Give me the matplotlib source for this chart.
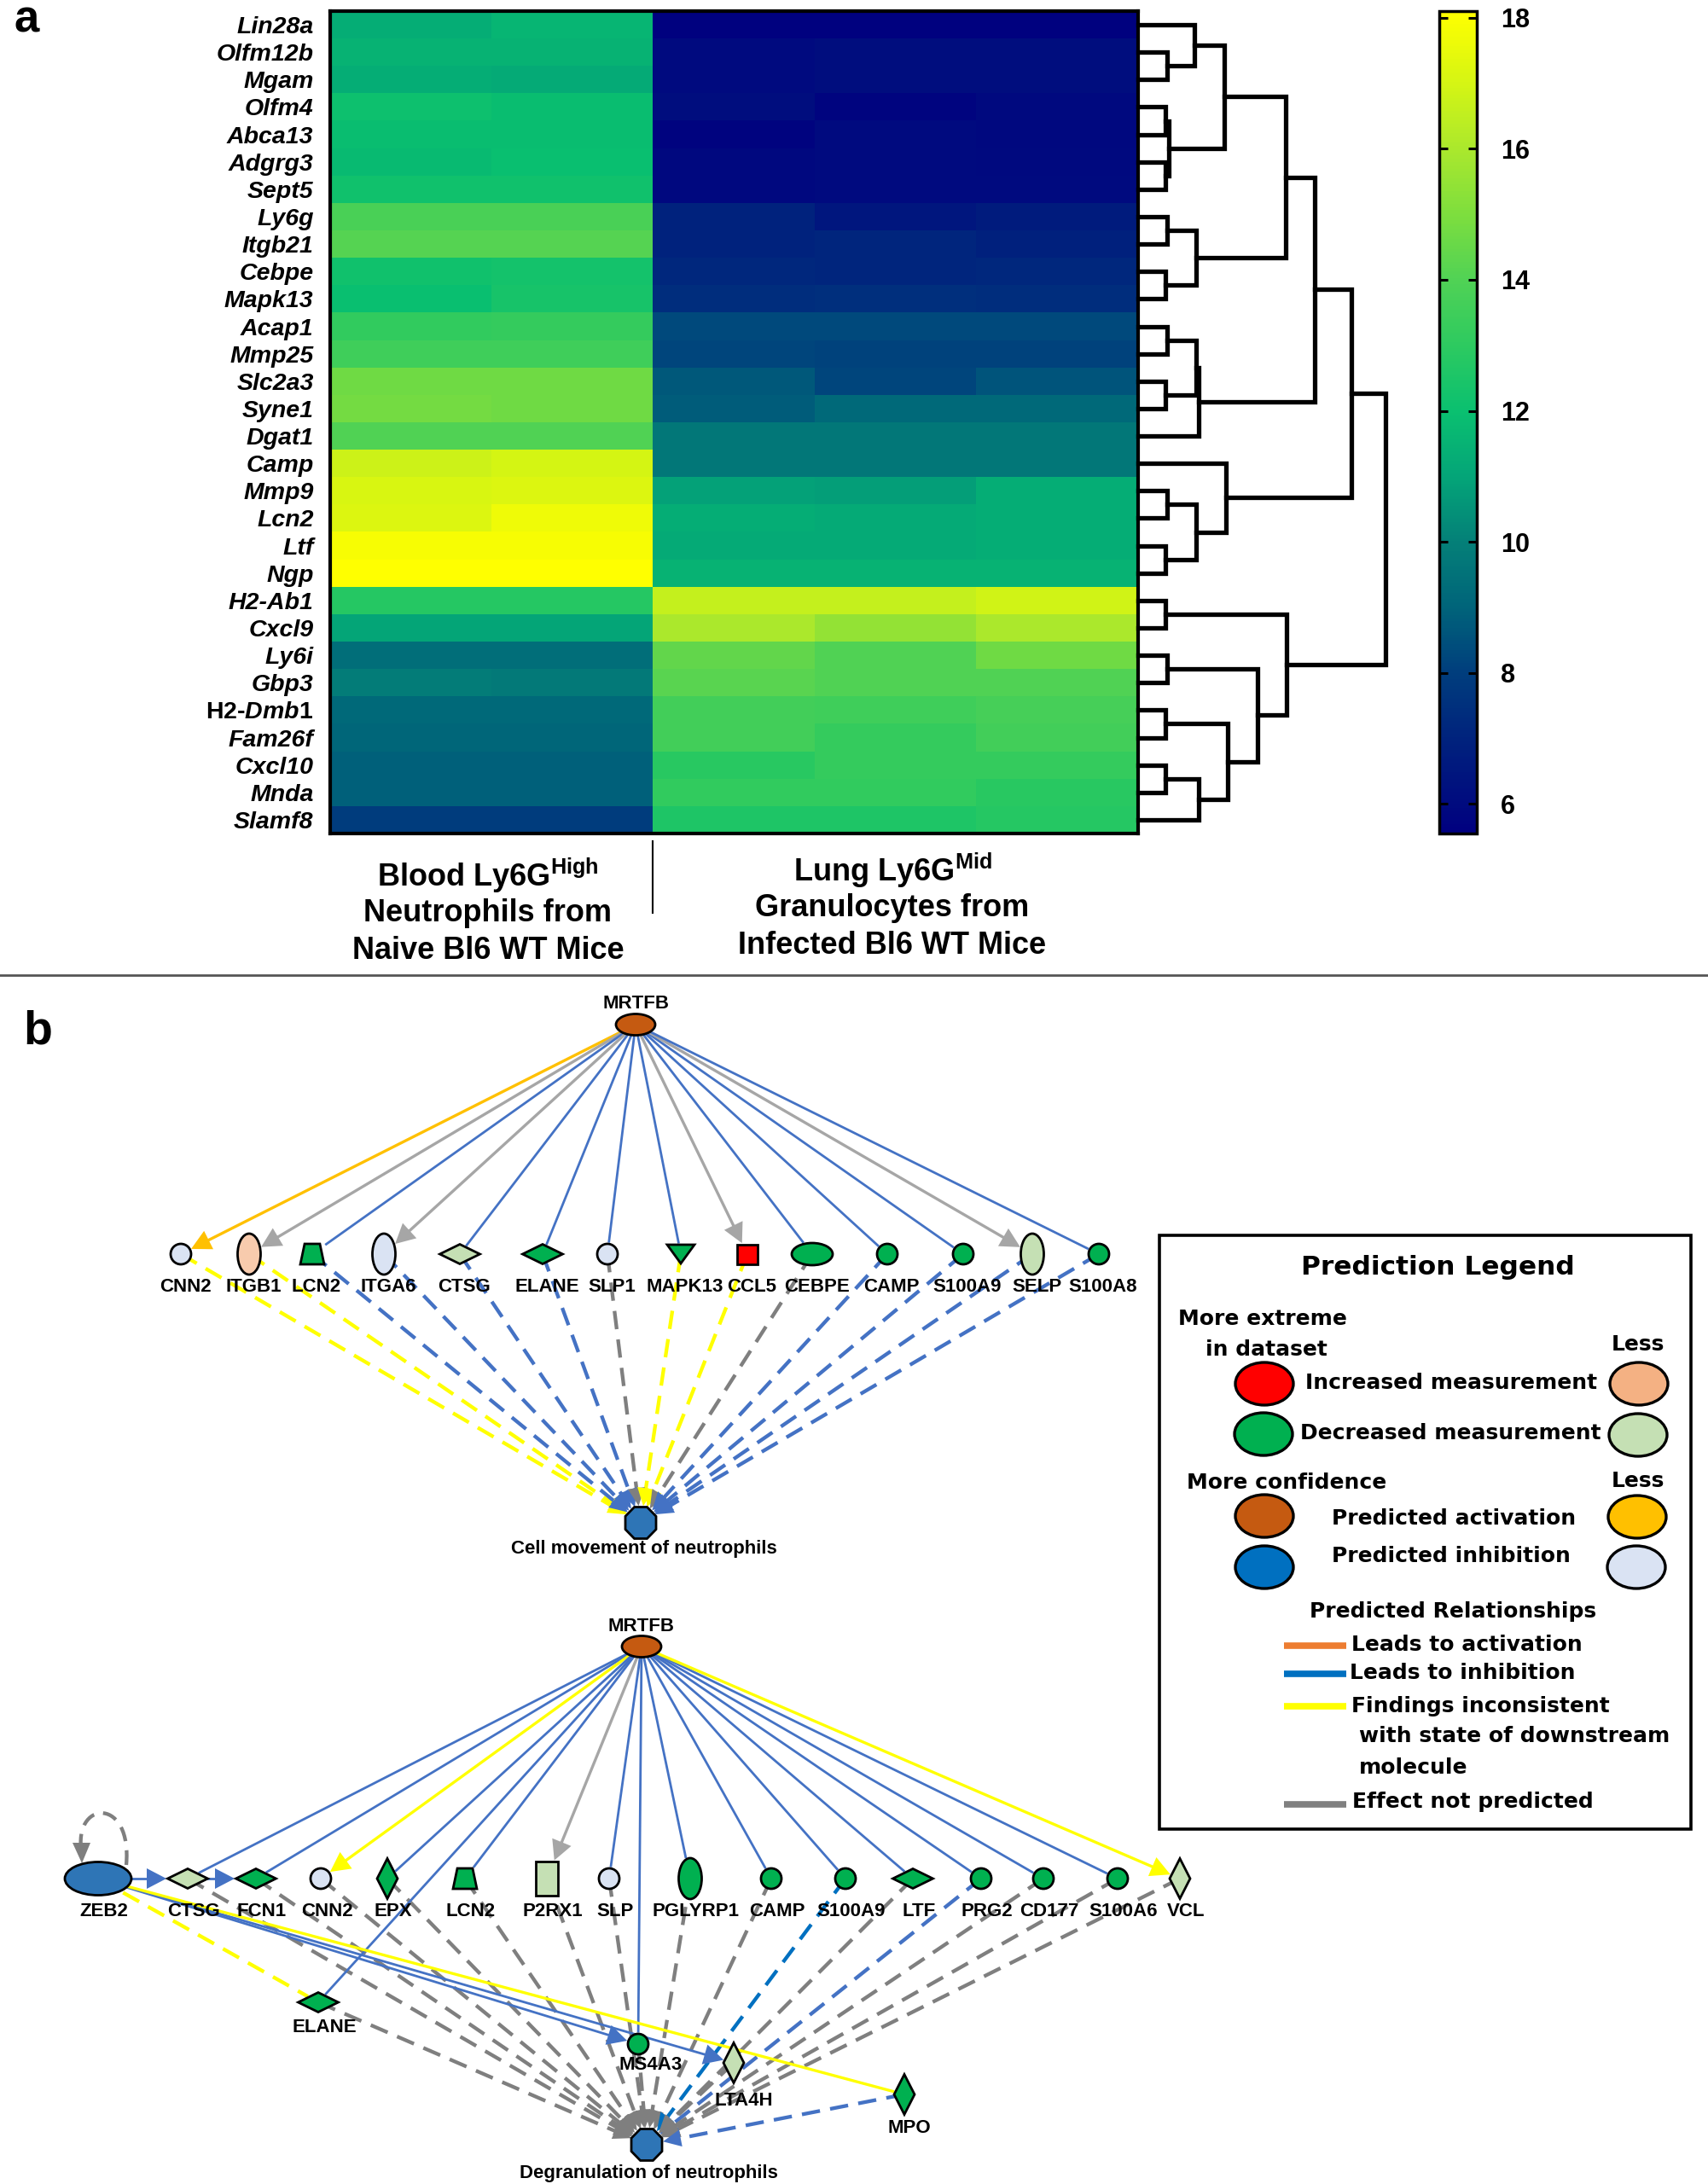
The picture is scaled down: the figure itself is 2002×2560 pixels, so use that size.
import matplotlib

matplotlib.use("Agg")

import matplotlib.pyplot as plt  # noqa: E402
import numpy as np  # noqa: E402
from matplotlib.colors import LinearSegmentedColormap  # noqa: E402
from matplotlib.patches import Ellipse, Polygon, Rectangle, PathPatch  # noqa: E402
from matplotlib.path import Path  # noqa: E402

plt.rcParams["font.family"] = ["Liberation Sans", "DejaVu Sans"]
plt.rcParams["mathtext.fontset"] = "custom"
plt.rcParams["mathtext.rm"] = "Liberation Sans:bold"
plt.rcParams["mathtext.it"] = "Liberation Sans:italic:bold"
plt.rcParams["mathtext.bf"] = "Liberation Sans:bold"

# ---------------------------------------------------------------- panel a data
genes = ["Lin28a", "Olfm12b", "Mgam", "Olfm4", "Abca13", "Adgrg3", "Sept5", "Ly6g",
         "Itgb21", "Cebpe", "Mapk13", "Acap1", "Mmp25", "Slc2a3", "Syne1", "Dgat1",
         "Camp", "Mmp9", "Lcn2", "Ltf", "Ngp", "H2-Ab1", "Cxcl9", "Ly6i", "Gbp3",
         "H2-Dmb1", "Fam26f", "Cxcl10", "Mnda", "Slamf8"]
blood_1 = [11.3, 11.5, 11.3, 12.1, 11.9, 11.8, 12.2, 13.8, 14.1, 12.2, 12.0, 13.1, 13.5, 14.7, 14.8,
           14.0, 16.8, 17.1, 17.2, 17.9, 18.1, 12.8, 11.0, 9.4, 9.9, 9.2, 9.1, 8.9, 8.9, 8.0]
blood_2 = [11.6, 11.5, 11.2, 11.9, 11.9, 12.0, 12.2, 13.8, 14.1, 12.3, 12.4, 13.2, 13.5, 14.7, 14.7,
           14.0, 17.0, 17.2, 17.7, 17.9, 18.1, 12.8, 11.0, 9.4, 9.8, 9.2, 9.1, 8.9, 8.9, 8.0]
lung_1 = [5.6, 6.0, 6.0, 6.1, 5.7, 5.9, 5.9, 7.0, 7.0, 7.2, 7.4, 8.3, 8.2, 8.7, 8.8,
          9.7, 9.7, 10.9, 11.3, 11.2, 11.5, 16.6, 16.0, 14.4, 14.2, 13.6, 13.6, 12.9, 13.1, 12.6]
lung_2 = [5.6, 6.1, 6.1, 5.75, 6.0, 6.0, 6.0, 6.5, 7.1, 7.1, 7.5, 8.3, 8.1, 8.2, 9.2,
          9.7, 9.7, 10.8, 11.2, 11.2, 11.5, 16.6, 15.5, 14.0, 14.0, 13.5, 13.2, 13.2, 13.1, 12.6]
lung_3 = [5.6, 6.1, 6.1, 5.95, 5.9, 5.95, 6.0, 6.7, 6.9, 7.2, 7.4, 8.3, 8.1, 8.6, 9.2,
          9.7, 9.7, 11.3, 11.3, 11.3, 11.5, 16.9, 16.0, 14.7, 14.0, 13.7, 13.6, 13.2, 12.9, 12.8]

# dendrogram merges: merge k creates node len(genes) + k
merge_a = [1, 0, 3, 5, 32, 31, 7, 9, 36, 35, 11, 13, 40, 42, 39, 17, 19, 45, 16, 44,
           21, 27, 51, 25, 53, 23, 55, 50, 49]
merge_b = [2, 30, 4, 6, 33, 34, 8, 10, 37, 38, 12, 14, 41, 15, 43, 18, 20, 46, 47, 48,
           22, 28, 29, 26, 52, 24, 54, 56, 57]
merge_h = [53, 102, 50, 50, 55, 157, 53, 50, 105, 267, 53, 50, 106, 110, 320, 53, 50, 106, 160, 387,
           50, 50, 110, 50, 163, 53, 217, 270, 448]

cbar_ticks = [6, 8, 10, 12, 14, 16, 18]
v_min, v_max = 5.55, 18.1

# ---------------------------------------------------------------- panel b data
net1_genes = ["CNN2", "ITGB1", "LCN2", "ITGA6", "CTSG", "ELANE", "SLP1", "MAPK13", "CCL5",
              "CEBPE", "CAMP", "S100A9", "SELP", "S100A8"]
net1_shape = ["circle", "vellipse", "trapezoid", "vellipse", "diamond", "diamond", "circle",
              "triangle_down", "square", "hellipse", "circle", "circle", "vellipse", "circle"]
net1_state = ["inh_less", "up_less", "down", "inh_less", "down_less", "down", "inh_less", "down",
              "up", "down", "down", "down", "down_less", "down"]
net1_in = ["act", "none", "inh", "none", "inh", "inh", "inh", "inh", "none", "inh", "inh", "inh",
           "none", "inh"]
net1_out = ["inc", "inc", "inh", "inh", "inh", "inh", "none", "inc", "inc", "none", "inh", "inh",
            "inh", "inh"]

net2_genes = ["ZEB2", "CTSG", "FCN1", "CNN2", "EPX", "LCN2", "P2RX1", "SLP", "PGLYRP1", "CAMP",
              "S100A9", "LTF", "PRG2", "CD177", "S100A6", "VCL", "ELANE", "MS4A3", "LTA4H", "MPO"]
net2_shape = ["zeb", "diamond", "diamond", "circle", "tall_diamond", "trapezoid", "rect", "circle",
              "vellipse", "circle", "circle", "diamond", "circle", "circle", "circle",
              "tall_diamond", "diamond", "circle", "tall_diamond", "tall_diamond"]
net2_state = ["inh", "down_less", "down", "inh_less", "down", "down", "down_less", "inh_less",
              "down", "down", "down", "down", "down", "down", "down", "down_less", "down", "down",
              "down_less", "down"]
net2_in = [None, "inh", "inh", "inc", "inh", "inh", "none", "inh", "inh", "inh", "inh", "inh",
           "inh", "inh", "inh", "inc", "inh", "inh", None, None]
net2_out = [None, "none", "none", "none", "none", "none", "none", "none", "none", "none", "inh2",
            "none", "inh", "none", "none", "none", "none", "none", "none", "inh"]
# extra links (source, target, relation, dashed, arrow)
net2_links = [("ZEB2", "CTSG", "inh", False, True), ("CTSG", "FCN1", "inh", False, True),
              ("ZEB2", "MS4A3", "inh", False, True), ("ZEB2", "LTA4H", "inh", False, True),
              ("ZEB2", "MPO", "inc", False, False), ("ZEB2", "ELANE", "inc", True, False)]

# ---------------------------------------------------------------- layout (pixels)
W, H = 2002, 2560
net1_x = [212, 292, 366, 450, 539, 636, 712, 798, 876, 952, 1040, 1129, 1210, 1288]
net1_row_y, net1_label_y = 1470, 1509
net1_root, net1_fn = (745, 1201), (751, 1785)

net2_x = [115, 220, 300, 376, 454, 545, 641, 714, 809, 904, 991, 1070, 1150, 1223, 1310, 1383,
          373, 748, 860, 1060]
net2_y = [2202] * 16 + [2347, 2396, 2418, 2455]
net2_label_y = [2240] * 16 + [2377, 2420, 2463, 2495]
net2_label_dx = [7] * 16 + [7, 15, 12, 6]
net2_root, net2_fn = (752, 1930), (758, 2514)

STATE_COLOR = {"up": "#ff0000", "up_less": "#f8cbad", "down": "#00b050", "down_less": "#c5e0b4",
               "act": "#c55a11", "act_less": "#ffc000", "inh": "#2e75b6", "inh_less": "#dae3f3"}
EDGE_COLOR = {"act": "#ffc000", "inh": "#4472c4", "inh2": "#0070c0", "inc": "#ffff00",
              "none": "#a6a6a6"}
DASH_GRAY = "#7f7f7f"
SHAPE_SIZE = {"circle": (24, 24), "vellipse": (27, 48), "hellipse": (48, 26), "diamond": (47, 23),
              "tall_diamond": (24, 47), "trapezoid": (28, 24), "triangle_down": (32, 22),
              "square": (24, 23), "rect": (26, 40), "zeb": (78, 39), "octagon": (36, 37),
              "root": (46, 25)}


def fa(x0, y0, x1, y1):
    return [x0 / W, 1 - y1 / H, (x1 - x0) / W, (y1 - y0) / H]


def boundary(shape, ux, uy):
    a, b = SHAPE_SIZE[shape][0] / 2, SHAPE_SIZE[shape][1] / 2
    if shape in ("diamond", "tall_diamond"):
        return 1 / (abs(ux) / a + abs(uy) / b)
    if shape in ("square", "rect", "trapezoid", "triangle_down"):
        return 1 / max(abs(ux) / a, abs(uy) / b)
    return 1 / np.hypot(ux / a, uy / b)


def edge(ax, p0, p1, shape, kind, dashed, arrow):
    color = EDGE_COLOR[kind]
    if dashed and kind == "none":
        color = DASH_GRAY
    dx, dy = p1[0] - p0[0], p1[1] - p0[1]
    d = np.hypot(dx, dy)
    ux, uy = dx / d, dy / d
    r = boundary(shape, ux, uy) + 1.5
    ex, ey = p1[0] - ux * r, p1[1] - uy * r
    if arrow:
        L, hw = (21, 10) if dashed else (23, 12)
        bx, by = ex - ux * L, ey - uy * L
        ax.add_patch(Polygon([(ex, ey), (bx - uy * hw, by + ux * hw), (bx + uy * hw, by - ux * hw)],
                             closed=True, facecolor=color, edgecolor="none", zorder=3))
        ex, ey = bx + ux * 3, by + uy * 3
    if dashed:
        ax.plot([p0[0], ex], [p0[1], ey], color=color, lw=3.1, ls=(0, (5, 2.8)),
                dash_capstyle="butt", zorder=2)
    else:
        ax.plot([p0[0], ex], [p0[1], ey], color=color, lw=2.0 if kind == "inh" else 2.4,
                solid_capstyle="butt", zorder=2)


def draw_node(ax, x, y, shape, fill):
    w, h = SHAPE_SIZE[shape]
    kw = dict(facecolor=fill, edgecolor="black", lw=2.0, zorder=4)
    if shape in ("circle", "vellipse", "hellipse", "zeb", "root"):
        p = Ellipse((x, y), w, h, **kw)
    elif shape in ("diamond", "tall_diamond"):
        p = Polygon([(x - w / 2, y), (x, y - h / 2), (x + w / 2, y), (x, y + h / 2)], closed=True, **kw)
    elif shape == "trapezoid":
        p = Polygon([(x - w * 0.32, y - h / 2), (x + w * 0.32, y - h / 2), (x + w / 2, y + h / 2),
                     (x - w / 2, y + h / 2)], closed=True, **kw)
    elif shape == "triangle_down":
        p = Polygon([(x - w / 2, y - h / 2), (x + w / 2, y - h / 2), (x, y + h / 2)], closed=True, **kw)
    elif shape in ("square", "rect"):
        p = Rectangle((x - w / 2, y - h / 2), w, h, **kw)
    else:
        ang = np.deg2rad(22.5 + 45 * np.arange(8))
        p = Polygon(np.c_[x + w / 2 / np.cos(np.pi / 8) * np.cos(ang),
                          y + h / 2 / np.cos(np.pi / 8) * np.sin(ang)], closed=True, **kw)
    ax.add_patch(p)


def label(ax, x, y, s, size=16):
    ax.text(x, y, s, ha="center", va="center", fontsize=size, fontweight="bold", zorder=6)


fig = plt.figure(figsize=(W / 100, H / 100), dpi=100)

# overlay axes in pixel coordinates (panel b, captions, separators)
ov = fig.add_axes([0, 0, 1, 1])
ov.set_xlim(0, W)
ov.set_ylim(H, 0)
ov.axis("off")

# ---------------------------------------------------------------- panel a
cmap_vals = [5.55, 7, 8, 9, 10, 11, 12, 13, 14, 15, 16, 17, 18.1]
cmap_rgb = [(0, 0, 128), (0, 35, 125), (0, 62, 125), (0, 100, 122), (4, 128, 120), (4, 165, 120),
            (10, 192, 112), (45, 202, 96), (80, 210, 85), (125, 222, 62), (170, 232, 45),
            (212, 245, 20), (255, 255, 0)]
cmap = LinearSegmentedColormap.from_list(
    "heat", [((v - v_min) / (v_max - v_min), tuple(c / 255 for c in rgb)) for v, rgb in zip(cmap_vals, cmap_rgb)])

ax_h = fig.add_axes(fa(387, 13, 1334, 977))
mat = np.column_stack([blood_1, blood_2, lung_1, lung_2, lung_3])
im = ax_h.imshow(mat, cmap=cmap, vmin=v_min, vmax=v_max, aspect="auto", interpolation="nearest")
ax_h.set_xticks([])
ax_h.set_yticks(range(len(genes)))
tick_text = [r"H2-$\mathit{Dmb1}$" if g == "H2-Dmb1" else g for g in genes]
ax_h.set_yticklabels(tick_text, fontsize=20.5, fontweight="bold", fontstyle="italic")
for g, t in zip(genes, ax_h.get_yticklabels()):
    if g == "H2-Dmb1":
        t.set_fontstyle("normal")
ax_h.tick_params(axis="y", length=0, pad=14)
for s in ax_h.spines.values():
    s.set_linewidth(3)

# dendrogram
ax_d = fig.add_axes(fa(1334, 13, 1650, 977))
ax_d.set_xlim(0, 489)
ax_d.set_ylim(len(genes) - 0.5, -0.5)
ax_d.axis("off")
pos_y = [float(i) for i in range(len(genes))]
pos_h = [0.0] * len(genes)
for a, b, h in zip(merge_a, merge_b, merge_h):
    ax_d.plot([pos_h[a], h, h, pos_h[b]], [pos_y[a], pos_y[a], pos_y[b], pos_y[b]],
              color="black", lw=3.8, solid_joinstyle="miter", clip_on=False)
    pos_y.append((pos_y[a] + pos_y[b]) / 2)
    pos_h.append(h)

# colorbar
cax = fig.add_axes(fa(1687, 13, 1731, 977))
cb = fig.colorbar(im, cax=cax, ticks=cbar_ticks)
cb.outline.set_linewidth(2.5)
cax.tick_params(direction="in", length=7, width=2.2, left=True, right=True, labelsize=22, pad=20)
for t in cax.get_yticklabels():
    t.set_fontweight("bold")

# group captions
ov.text(572, 1026, r"Blood Ly6G$^{\mathrm{High}}$", ha="center", va="center", fontsize=26, fontweight="bold")
ov.text(572, 1070, "Neutrophils from", ha="center", va="center", fontsize=26, fontweight="bold")
ov.text(572, 1114, "Naive Bl6 WT Mice", ha="center", va="center", fontsize=26, fontweight="bold")
ov.text(1046, 1020, r"Lung Ly6G$^{\mathrm{Mid}}$", ha="center", va="center", fontsize=26, fontweight="bold")
ov.text(1046, 1064, "Granulocytes from", ha="center", va="center", fontsize=26, fontweight="bold")
ov.text(1046, 1109, "Infected Bl6 WT Mice", ha="center", va="center", fontsize=26, fontweight="bold")
ov.plot([765, 765], [986, 1070], color="black", lw=1.5)
ov.plot([0, W], [1143, 1143], color="#555555", lw=2)
ov.text(16, 38, "a", fontsize=38, fontweight="bold", va="baseline")
ov.text(27, 1224, "b", fontsize=40, fontweight="bold", va="baseline")

# ---------------------------------------------------------------- panel b: network 1
for i, g in enumerate(net1_genes):
    p = (net1_x[i], net1_row_y)
    sh = net1_shape[i]
    edge(ov, net1_root, p, sh, net1_in[i], False, net1_in[i] != "inh")
    edge(ov, p, net1_fn, "octagon", net1_out[i], True, True)
    draw_node(ov, p[0], p[1], sh, STATE_COLOR[net1_state[i]])
    label(ov, p[0] + 5, net1_label_y, g)
draw_node(ov, *net1_root, "root", STATE_COLOR["act"])
label(ov, net1_root[0], net1_root[1] - 24, "MRTFB")
draw_node(ov, *net1_fn, "octagon", STATE_COLOR["inh"])
label(ov, net1_fn[0] + 4, net1_fn[1] + 30, "Cell movement of neutrophils")

# ---------------------------------------------------------------- panel b: network 2
pos2 = {g: (x, y) for g, x, y in zip(net2_genes, net2_x, net2_y)}
shape2 = dict(zip(net2_genes, net2_shape))
for i, g in enumerate(net2_genes):
    p = pos2[g]
    if net2_in[i]:
        edge(ov, net2_root, p, shape2[g], net2_in[i], False, net2_in[i] != "inh")
    if net2_out[i]:
        edge(ov, p, net2_fn, "octagon", net2_out[i], True, True)
for src, dst, kind, dashed, arrow in net2_links:
    edge(ov, pos2[src], pos2[dst], shape2[dst], kind, dashed, arrow)

# ZEB2 self-regulation loop
zx, zy = pos2["ZEB2"]
loop = Path([(zx + 33, zy - 16), (zx + 40, zy - 95), (zx - 26, zy - 92), (zx - 20, zy - 36)],
            [Path.MOVETO, Path.CURVE4, Path.CURVE4, Path.CURVE4])
ov.add_patch(PathPatch(loop, facecolor="none", edgecolor=DASH_GRAY, lw=3.1, ls=(0, (4, 2.5)), zorder=2))
ov.add_patch(Polygon([(zx - 19, zy - 18), (zx - 30, zy - 42), (zx - 9, zy - 42)], closed=True,
                     facecolor=DASH_GRAY, edgecolor="none", zorder=3))

for i, g in enumerate(net2_genes):
    draw_node(ov, *pos2[g], shape2[g], STATE_COLOR[net2_state[i]])
    label(ov, pos2[g][0] + net2_label_dx[i], net2_label_y[i], g)
draw_node(ov, *net2_root, "root", STATE_COLOR["act"])
label(ov, net2_root[0], net2_root[1] - 23, "MRTFB")
draw_node(ov, *net2_fn, "octagon", STATE_COLOR["inh"])
label(ov, net2_fn[0] + 2, net2_fn[1] + 34, "Degranulation of neutrophils")

# ---------------------------------------------------------------- prediction legend
ov.add_patch(Rectangle((1359, 1448), 623, 696, facecolor="white", edgecolor="black", lw=2.6, zorder=1))
lg = dict(fontfamily="DejaVu Sans", fontweight="bold", va="center", zorder=6)
ov.text(1685, 1486, "Prediction Legend", ha="center", fontsize=22.5, **lg)
ov.text(1381, 1546, "More extreme", ha="left", fontsize=18, **lg)
ov.text(1413, 1582, "in dataset", ha="left", fontsize=18, **lg)
ov.text(1920, 1576, "Less", ha="center", fontsize=18, **lg)
ov.text(1530, 1621, "Increased measurement", ha="left", fontsize=18, **lg)
ov.text(1524, 1680, "Decreased measurement", ha="left", fontsize=18, **lg)
ov.text(1391, 1738, "More confidence", ha="left", fontsize=18, **lg)
ov.text(1920, 1736, "Less", ha="center", fontsize=18, **lg)
ov.text(1561, 1780, "Predicted activation", ha="left", fontsize=18, **lg)
ov.text(1561, 1824, "Predicted inhibition", ha="left", fontsize=18, **lg)
ov.text(1703, 1889, "Predicted Relationships", ha="center", fontsize=18, **lg)
ov.text(1584, 1928, "Leads to activation", ha="left", fontsize=18, **lg)
ov.text(1582, 1961, "Leads to inhibition", ha="left", fontsize=18, **lg)
ov.text(1584, 2000, "Findings inconsistent", ha="left", fontsize=18, **lg)
ov.text(1593, 2035, "with state of downstream", ha="left", fontsize=18, **lg)
ov.text(1593, 2072, "molecule", ha="left", fontsize=18, **lg)
ov.text(1585, 2112, "Effect not predicted", ha="left", fontsize=18, **lg)

legend_ovals = [((1482, 1622), "up"), ((1921, 1622), "up_less"), ((1481, 1681), "down"),
                ((1920, 1682), "down_less"), ((1482, 1777), "act"), ((1919, 1778), "act_less"),
                ((1482, 1837), "inh"), ((1918, 1837), "inh_less")]
for (x, y), st in legend_ovals:
    fill = "#0070c0" if st == "inh" else ("#f4b183" if st == "up_less" else STATE_COLOR[st])
    ov.add_patch(Ellipse((x, y), 68, 50, facecolor=fill, edgecolor="black", lw=2.4, zorder=4))

legend_lines = [(1929, "#ed7d31"), (1962, "#0070c0"), (2000, "#ffff00"), (2115, "#808080")]
for y, c in legend_lines:
    ov.plot([1505, 1578], [y, y], color=c, lw=5.5, solid_capstyle="butt", zorder=4)

fig.savefig("out.png", dpi=100)
